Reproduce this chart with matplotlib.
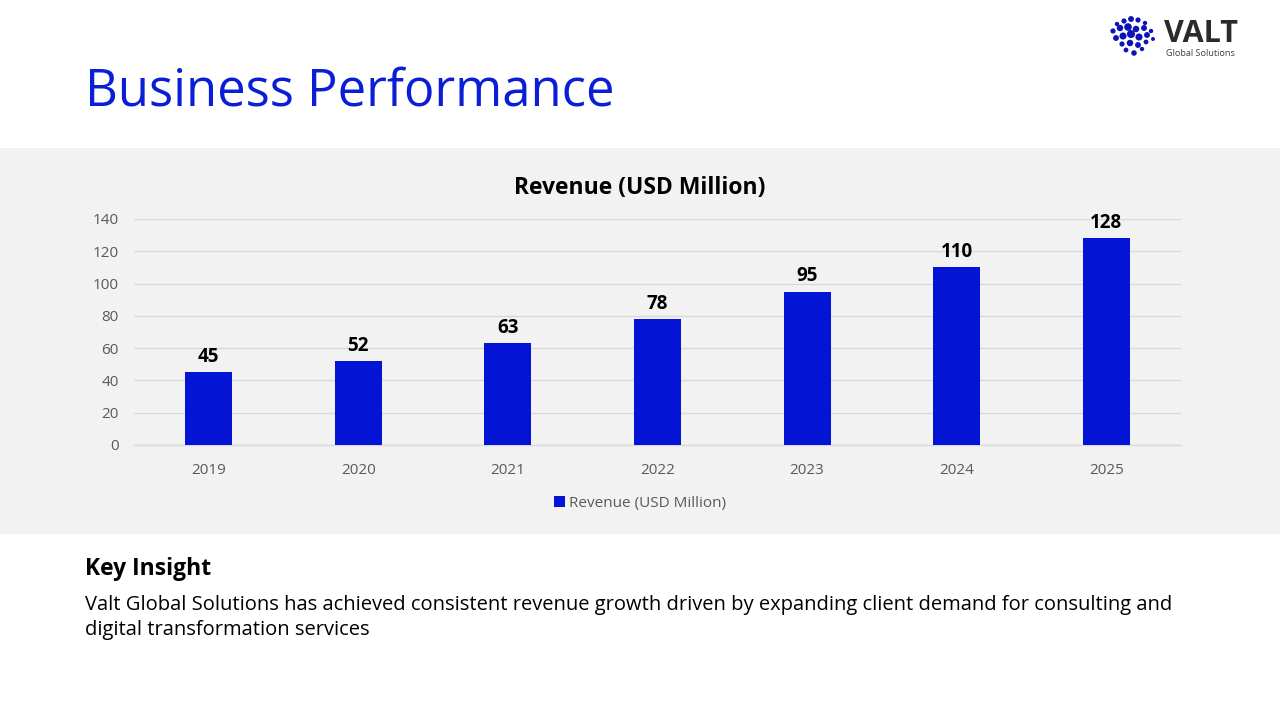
import matplotlib
matplotlib.use("Agg")
import matplotlib.pyplot as plt
from matplotlib.patches import Rectangle

plt.rcParams["font.family"] = ["Open Sans", "DejaVu Sans"]

# ── Data ──────────────────────────────────────────────────────────────
years = ["2019", "2020", "2021", "2022", "2023", "2024", "2025"]
revenue = [45, 52, 63, 78, 95, 110, 128]
y_ticks = [0, 20, 40, 60, 80, 100, 120, 140]

C_BLUE = "#0414D4"
C_TITLE = "#0A1ED8"
C_PANEL = "#F2F2F2"
C_GRID = "#D9D9D9"
C_TICK = "#595959"

fig = plt.figure(figsize=(12.8, 7.2), dpi=100)
fig.patch.set_facecolor("white")

# background layer in pixel coordinates (panel, titles, logo)
bg = fig.add_axes([0, 0, 1, 1], zorder=-1)
bg.set_xlim(0, 1280)
bg.set_ylim(720, 0)
bg.axis("off")
bg.add_patch(Rectangle((0, 148), 1280, 386, facecolor=C_PANEL,
                       edgecolor="none"))

# slide title
bg.text(85, 92, "Business Performance", fontsize=36.5, color=C_TITLE,
        ha="left", va="center")

# ── Logo ──────────────────────────────────────────────────────────────
logo_x = [1117, 1124, 1131, 1138, 1145, 1113, 1120, 1128, 1136, 1144, 1151,
          1116, 1123, 1131, 1139, 1147, 1153, 1122, 1130, 1138, 1146, 1126,
          1134, 1142]
logo_y = [24, 21, 19, 20, 23, 31, 28, 27, 29, 28, 31, 38, 36, 34, 37, 35, 39,
          44, 43, 45, 42, 50, 53, 49]
logo_s = [10, 14, 18, 14, 10, 14, 22, 30, 22, 18, 10, 18, 26, 34, 26, 18, 8,
          14, 22, 18, 12, 12, 16, 10]
bg.scatter(logo_x, logo_y, s=logo_s, color="#0A14B8", linewidths=0)
bg.text(1164, 42, "VALT", fontsize=22, fontweight="bold", color="#2B2B2B",
        ha="left", va="baseline")
bg.text(1166, 54, "Global Solutions", fontsize=6.6, color="#404040",
        ha="left", va="center")

# chart title, centred on the slide
bg.text(640, 188, "Revenue (USD Million)", fontsize=16.5, fontweight="bold",
        color="black", ha="center", va="center")

# ── Chart ─────────────────────────────────────────────────────────────
ax = fig.add_axes([134 / 1280, 1 - 445 / 720, 1047 / 1280, 226 / 720],
                  zorder=2)
ax.set_facecolor(C_PANEL)
x = range(len(years))
bars = ax.bar(x, revenue, width=0.315, color=C_BLUE, zorder=3,
              label="Revenue (USD Million)")
ax.set_xlim(-0.5, len(years) - 0.5)
ax.set_ylim(0, 140)
ax.set_yticks(y_ticks)
ax.set_xticks(list(x))
ax.set_xticklabels(years)
ax.grid(axis="y", color=C_GRID, lw=1, zorder=0)
ax.axhline(0, color=C_GRID, lw=1, zorder=1, clip_on=False)
ax.set_axisbelow(True)
for s in ax.spines.values():
    s.set_visible(False)
ax.tick_params(length=0, labelsize=11, colors=C_TICK)
ax.tick_params(axis="x", pad=13)
ax.tick_params(axis="y", pad=11)

for b, v in zip(bars, revenue):
    ax.annotate(str(v), (b.get_x() + b.get_width() / 2, v),
                xytext=(0, 4), textcoords="offset points", ha="center",
                va="bottom", fontsize=13.5, fontweight="bold", color="black")

leg = fig.legend(handles=[bars], labels=["Revenue (USD Million)"],
                 loc="center", bbox_to_anchor=(640 / 1280, 1 - 503 / 720),
                 frameon=False, fontsize=11, handlelength=0.7,
                 handleheight=0.7, handletextpad=0.3)
for t in leg.get_texts():
    t.set_color(C_TICK)

# ── Key insight ───────────────────────────────────────────────────────
bg.text(85, 569, "Key Insight", fontsize=16.5, fontweight="bold",
        color="black", ha="left", va="center")
bg.text(85, 605, "Valt Global Solutions has achieved consistent revenue "
        "growth driven by expanding client demand for consulting and",
        fontsize=14.5, color="black", ha="left", va="center")
bg.text(85, 630, "digital transformation services",
        fontsize=14.5, color="black", ha="left", va="center")

fig.savefig("out.png", dpi=100)
